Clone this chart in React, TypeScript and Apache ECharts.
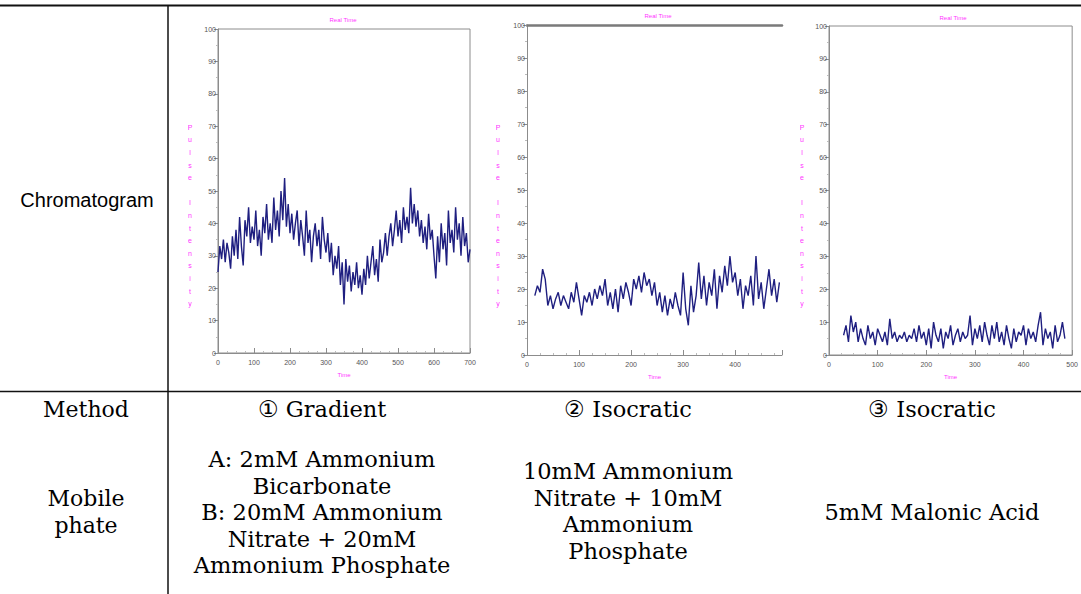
import React, { useEffect, useRef } from "react";
import * as echarts from "echarts";

// ---- Chromatogram 1 (Gradient): sampling from t=0, every 5 s ----
const chart1Start = 0;
const chart1Step = 5;
const chart1Intensity = [
  25, 33, 29, 35, 28, 34, 31, 26, 36, 30,
  38, 29, 42, 33, 27, 41, 36, 45, 34, 39,
  35, 44, 33, 38, 30, 42, 37, 46, 35, 40,
  34, 48, 38, 44, 36, 50, 41, 54, 39, 46,
  37, 43, 35, 40, 44, 33, 41, 36, 30, 44,
  34, 38, 28, 36, 40, 33, 38, 29, 42, 35,
  31, 37, 28, 34, 24, 30, 26, 33, 21, 28,
  15, 29, 22, 27, 19, 25, 21, 28, 20, 24,
  18, 26, 21, 30, 23, 28, 33, 24, 29, 22,
  35, 28, 31, 37, 30, 36, 40, 33, 38, 44,
  36, 41, 34, 45, 38, 42, 37, 51, 40, 46,
  39, 44, 36, 41, 34, 39, 32, 43, 35, 38,
  30, 23, 36, 28, 40, 32, 37, 27, 44, 34,
  38, 31, 45, 35, 40, 30, 42, 33, 37, 28,
  32,
];

// ---- Chromatogram 2 (Isocratic): sampling from t=15, every 5 s ----
const chart2Start = 15;
const chart2Step = 5;
const chart2Intensity = [
  18, 21, 19, 26, 23, 15, 18, 14, 17, 19,
  15, 18, 16, 14, 19, 16, 22, 17, 12, 18,
  16, 19, 15, 20, 17, 21, 18, 23, 15, 19,
  14, 20, 13, 21, 17, 22, 19, 15, 23, 20,
  24, 19, 25, 21, 23, 18, 22, 15, 19, 13,
  18, 12, 17, 14, 19, 15, 12, 25, 14, 9,
  21, 13, 18, 28, 17, 24, 15, 22, 18, 26,
  14, 24, 19, 27, 21, 30, 22, 25, 18, 23,
  14, 21, 18, 24, 15, 30, 17, 22, 14, 20,
  26, 18, 23, 16, 22,
];

// ---- Chromatogram 3 (Isocratic): sampling from t=30, every 5 s ----
const chart3Start = 30;
const chart3Step = 5;
const chart3Intensity = [
  6, 9, 4, 12, 7, 10, 4, 8, 5, 3,
  9, 5, 7, 3, 8, 6, 4, 7, 3, 11,
  5, 7, 4, 6, 5, 7, 4, 6, 5, 8,
  4, 9, 5, 7, 3, 8, 2, 10, 6, 4,
  8, 2, 7, 5, 9, 3, 6, 8, 4, 7,
  5, 6, 12, 3, 8, 5, 9, 4, 10, 6,
  3, 9, 5, 10, 4, 7, 3, 9, 5, 2,
  8, 4, 7, 6, 9, 3, 8, 5, 7, 4,
  9, 13, 3, 8, 5, 7, 2, 9, 4, 6,
  10, 5,
];

const chartMaxTime = [700, 490, 500];
const yTicks = [0, 10, 20, 30, 40, 50, 60, 70, 80, 90, 100];

// ---- Table texts ----
const rowLabels = ["Chromatogram", "Method", "Mobile\nphate"];
const methods = ["① Gradient", "② Isocratic", "③ Isocratic"];
const mobilePhases = [
  "A: 2mM Ammonium\nBicarbonate\nB: 20mM Ammonium\nNitrate + 20mM\nAmmonium Phosphate",
  "10mM Ammonium\nNitrate + 10mM\nAmmonium\nPhosphate",
  "5mM Malonic Acid",
];

const plotTitle = "Real Time";
const xName = "Time";
const yName = "Pulse Intensity";

function toPairs(start: number, step: number, values: number[]) {
  return values.map((v, i) => [start + i * step, v]);
}

const AXIS_GRAY = "#8c8c8c";
const TRACE = "#1f1f80";
const MAGENTA = "#ff33ff";
const SERIF = "'DejaVu Serif', serif";

export default function App() {
  const ref = useRef<HTMLDivElement>(null);

  useEffect(() => {
    if (!ref.current) return;
    const chart = echarts.init(ref.current, undefined, { renderer: "svg" });

    const grids = [
      { left: 218, top: 29, width: 252, height: 324, show: true, borderColor: AXIS_GRAY, borderWidth: 1 },
      { left: 527, top: 25, width: 255, height: 330, show: false },
      { left: 829, top: 26, width: 249, height: 329, show: true, borderColor: AXIS_GRAY, borderWidth: 1 },
    ];

    const xAxisBase = (gi: number) => ({
      type: "value",
      gridIndex: gi,
      min: 0,
      max: chartMaxTime[gi],
      interval: 100,
      splitLine: { show: false },
      axisLine: { show: true, lineStyle: { color: AXIS_GRAY, width: 1 } },
      axisTick: { show: true, inside: true, length: 5, lineStyle: { color: AXIS_GRAY } },
      minorTick: { show: true, splitNumber: 4, length: 2, lineStyle: { color: "#bbb" } },
      axisLabel: {
        fontSize: 7,
        color: "#555",
        margin: 6,
        fontFamily: "'Liberation Sans', Arial, sans-serif",
        formatter: (v: number) => (v % 100 === 0 ? String(v) : ""),
      },
      name: xName,
      nameLocation: "middle",
      nameGap: 19,
      nameTextStyle: { color: MAGENTA, fontSize: 6, fontFamily: "'Liberation Sans', sans-serif" },
    });

    const yAxisBase = (gi: number) => ({
      type: "value",
      gridIndex: gi,
      min: yTicks[0],
      max: yTicks[yTicks.length - 1],
      interval: yTicks[1] - yTicks[0],
      splitLine: { show: false },
      axisLine: { show: true, lineStyle: { color: AXIS_GRAY, width: 1 } },
      axisTick: { show: true, inside: false, length: 4, lineStyle: { color: AXIS_GRAY } },
      minorTick: { show: true, splitNumber: 2, length: 2, lineStyle: { color: "#bbb" } },
      axisLabel: {
        fontSize: 7,
        color: "#555",
        margin: 2,
        fontFamily: "'Liberation Sans', Arial, sans-serif",
      },
    });

    const xAxes: any[] = [xAxisBase(0), xAxisBase(1), xAxisBase(2)];
    // thick top frame line of chromatogram 2
    xAxes.push({
      type: "value",
      gridIndex: 1,
      position: "top",
      min: 0,
      max: chartMaxTime[1],
      axisLine: { show: true, lineStyle: { color: "#7a7a7a", width: 2.5 } },
      axisTick: { show: false },
      axisLabel: { show: false },
      splitLine: { show: false },
    });

    const seriesData = [
      toPairs(chart1Start, chart1Step, chart1Intensity),
      toPairs(chart2Start, chart2Step, chart2Intensity),
      toPairs(chart3Start, chart3Step, chart3Intensity),
    ];

    const series = seriesData.map((d, i) => ({
      type: "line",
      xAxisIndex: i,
      yAxisIndex: i,
      data: d,
      showSymbol: false,
      symbol: "none",
      lineStyle: { color: TRACE, width: 1.4 },
    }));

    const titlePos = [
      [343, 20],
      [658, 16],
      [953, 18],
    ];
    const yNamePos = [190, 498, 802];
    const verticalName = yName.split("").join("\n");

    const graphic: any[] = [];
    // table lines
    graphic.push({ type: "line", shape: { x1: 0, y1: 5.5, x2: 1081, y2: 5.5 }, style: { stroke: "#111", lineWidth: 2 } });
    graphic.push({ type: "line", shape: { x1: 0, y1: 391.5, x2: 1081, y2: 391.5 }, style: { stroke: "#111", lineWidth: 1.5 } });
    graphic.push({ type: "line", shape: { x1: 168, y1: 5, x2: 168, y2: 594 }, style: { stroke: "#111", lineWidth: 1.5 } });

    titlePos.forEach(([x, y]) => {
      graphic.push({
        type: "text",
        x,
        y,
        style: { text: plotTitle, fill: MAGENTA, fontSize: 6, fontFamily: "'Liberation Sans', sans-serif", align: "center", verticalAlign: "middle" },
      });
    });
    yNamePos.forEach((x) => {
      graphic.push({
        type: "text",
        x,
        y: 121,
        style: { text: verticalName, fill: MAGENTA, fontSize: 7, lineHeight: 12.6, fontFamily: "'Liberation Sans', sans-serif", align: "center", verticalAlign: "top" },
      });
    });

    // row labels
    graphic.push({
      type: "text",
      x: 87,
      y: 200,
      style: { text: rowLabels[0], fill: "#000", fontSize: 20, fontFamily: "'Liberation Sans', Arial, sans-serif", align: "center", verticalAlign: "middle" },
    });
    graphic.push({
      type: "text",
      x: 86,
      y: 409,
      style: { text: rowLabels[1], fill: "#000", fontSize: 22, fontFamily: SERIF, align: "center", verticalAlign: "middle" },
    });
    graphic.push({
      type: "text",
      x: 86,
      y: 512,
      style: { text: rowLabels[2], fill: "#000", fontSize: 22, lineHeight: 27, fontFamily: SERIF, align: "center", verticalAlign: "middle" },
    });

    const colCenters = [322, 628, 932];
    methods.forEach((m, i) => {
      graphic.push({
        type: "text",
        x: colCenters[i],
        y: 409,
        style: { text: m, fill: "#000", fontSize: 22.5, fontFamily: SERIF, align: "center", verticalAlign: "middle" },
      });
    });
    const mobileY = [512, 511, 512];
    mobilePhases.forEach((m, i) => {
      graphic.push({
        type: "text",
        x: colCenters[i],
        y: mobileY[i],
        style: { text: m, fill: "#000", fontSize: 22.5, lineHeight: 26.5, fontFamily: SERIF, align: "center", verticalAlign: "middle" },
      });
    });

    chart.setOption({
      animation: false,
      backgroundColor: "#fff",
      grid: grids,
      xAxis: xAxes,
      yAxis: [yAxisBase(0), yAxisBase(1), yAxisBase(2)],
      series,
      graphic,
    });

    return () => chart.dispose();
  }, []);

  return (
    <div
      ref={ref}
      style={{ position: "absolute", left: 0, top: 0, width: 1081, height: 594, background: "#fff" }}
    />
  );
}
